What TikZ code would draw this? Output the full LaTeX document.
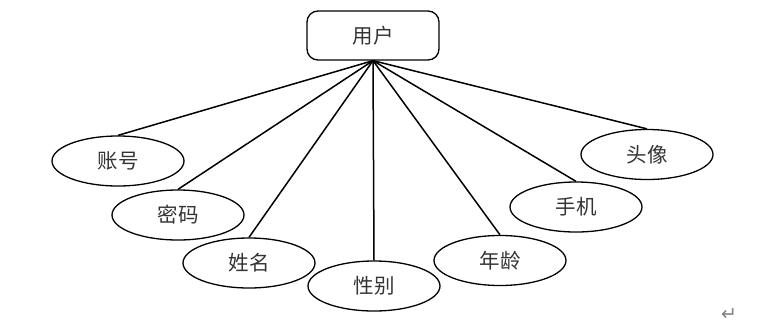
\documentclass[tikz,border=0pt]{standalone}
\usepackage{fontspec}
\newfontfamily\cjk{Noto Sans CJK SC}
\newfontfamily\symfont{DejaVu Sans}
\usetikzlibrary{shapes.geometric}
\begin{document}
\begin{tikzpicture}[x=1pt,y=-1pt,
  attr/.style={draw=black,line width=1.3pt,ellipse,minimum width=132pt,minimum height=50pt,inner sep=0pt,font=\cjk\fontsize{20.5}{20.5}\selectfont,text=black!80},
  entity/.style={draw=black,line width=1.3pt,rectangle,rounded corners=11pt,minimum width=132pt,minimum height=49pt,inner sep=0pt,font=\cjk\fontsize{20.5}{20.5}\selectfont,text=black!80},
  link/.style={line width=1.5pt,black}]
\useasboundingbox (0,0) rectangle (782,333);
\node[entity] (user) at (373,35.5) {用户};
\node[attr] (a1) at (118,161) {账号};
\node[attr] (a2) at (178,215) {密码};
\node[attr] (a3) at (249,263) {姓名};
\node[attr] (a4) at (374,286) {性别};
\node[attr] (a5) at (500,260.5) {年龄};
\node[attr] (a6) at (576,207) {手机};
\node[attr] (a7) at (647,154.5) {头像};
\foreach \n in {a1,a2,a3,a4,a5,a6,a7}{\draw[link] (user.south) -- (\n.north);}
\node[font=\symfont\fontsize{19}{19}\selectfont,text=black!50] (ret) at (729,315) {↵};
\end{tikzpicture}
\end{document}
